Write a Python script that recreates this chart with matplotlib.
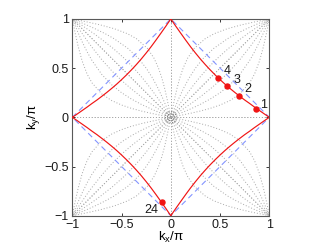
import numpy as np
import matplotlib
matplotlib.use("Agg")
import matplotlib.pyplot as plt

plt.rcParams['font.family'] = ['Liberation Sans', 'DejaVu Sans']
plt.rcParams['mathtext.fontset'] = 'custom'
plt.rcParams['mathtext.rm'] = 'Liberation Sans'
plt.rcParams['mathtext.it'] = 'Liberation Sans'

# Fermi surface, first quadrant (kx/pi, ky/pi); other quadrants by mirror symmetry
fs_kx = [0.0, 0.05, 0.1, 0.15, 0.2, 0.25, 0.3, 0.35, 0.4, 0.45, 0.5, 0.55, 0.6, 0.65, 0.7, 0.75, 0.8, 0.85, 0.9, 0.95, 1.0]
fs_ky = [1.0, 0.927, 0.856, 0.786, 0.718, 0.654, 0.593, 0.536, 0.482, 0.431, 0.383, 0.337, 0.294, 0.253, 0.214, 0.176, 0.141, 0.104, 0.069, 0.034, 0.0]

# numbered points on the Fermi surface
pt_labels = ['1', '2', '3', '4', '24']
pt_kx = [0.868, 0.692, 0.574, 0.479, -0.094]
pt_ky = [0.088, 0.219, 0.316, 0.403, -0.865]

# grey guide lines, first octant (kx/pi -> ky/pi); mirrored into all octants
guide_kx = [0.0, 0.05, 0.1, 0.2, 0.3, 0.4, 0.5, 0.6, 0.7, 0.8, 0.85, 0.9, 0.94, 0.97, 0.99, 1.0]
guide_ky_a = [0.0, 0.010, 0.020, 0.041, 0.064, 0.091, 0.125, 0.170, 0.237, 0.350, 0.440, 0.572, 0.718, 0.852, 0.950, 1.0]
guide_ky_b = [0.0, 0.021, 0.042, 0.085, 0.132, 0.186, 0.250, 0.330, 0.435, 0.577, 0.666, 0.768, 0.857, 0.928, 0.976, 1.0]
guide_ky_c = [0.0, 0.033, 0.067, 0.136, 0.209, 0.288, 0.375, 0.473, 0.585, 0.712, 0.780, 0.852, 0.911, 0.955, 0.985, 1.0]
guide_axis_kx = [0.0, 1.0]
guide_axis_ky = [0.0, 0.0]
guide_diag_kx = [0.0, 1.0]
guide_diag_ky = [0.0, 1.0]
ring_radii = [0.015, 0.035, 0.055]

# Brillouin-zone diamond |kx|+|ky| = 1
diamond_kx = [-1, 0, 1, 0, -1]
diamond_ky = [0, 1, 0, -1, 0]

ticks = [-1, -0.5, 0, 0.5, 1]
tick_labels = ['\u22121', '\u22120.5', '0', '0.5', '1']

fig = plt.figure(figsize=(3.29, 2.47), dpi=100)
ax = fig.add_axes([0.2198, 0.1267, 0.5988, 0.7966])

gc = (0.66, 0.66, 0.66)
gls = (0, (1, 2.0))


def sym_plot(x, y):
    x = np.asarray(x, float)
    y = np.asarray(y, float)
    for sx in (1, -1):
        for sy in (1, -1):
            ax.plot(sx * x, sy * y, color=gc, lw=0.7, ls=gls, zorder=1)
            ax.plot(sx * y, sy * x, color=gc, lw=0.7, ls=gls, zorder=1)


for gy in (guide_ky_a, guide_ky_b, guide_ky_c):
    sym_plot(guide_kx, gy)
sym_plot(guide_axis_kx, guide_axis_ky)
sym_plot(guide_diag_kx, guide_diag_ky)

th = np.linspace(0, 2 * np.pi, 60)
for r in ring_radii:
    ax.plot(r * np.cos(th), r * np.sin(th), color=(0.45, 0.45, 0.45), lw=0.7,
            ls=(0, (1, 1.5)), zorder=1)

ax.plot(diamond_kx, diamond_ky, color='#8394ff', lw=0.8, ls=(0, (5, 3.5)), zorder=2)

fx = np.asarray(fs_kx)
fy = np.asarray(fs_ky)
for sx in (1, -1):
    for sy in (1, -1):
        ax.plot(sx * fx, sy * fy, color='#f01414', lw=0.85, zorder=3)

ax.plot(pt_kx, pt_ky, 'o', color='#f01414', ms=3.6, mec='#f01414', zorder=4)
offs = [(7, 4), (9, 7), (10, 6), (9, 7), (-10, -8)]
for lab, x, y, o in zip(pt_labels, pt_kx, pt_ky, offs):
    ax.annotate(lab, (x, y), xytext=o, textcoords='offset pixels',
                ha='center', va='center', fontsize=9, color='0.1')

ax.set_xlim(-1, 1)
ax.set_ylim(-1, 1)
ax.set_xticks(ticks)
ax.set_yticks(ticks)
ax.set_xticklabels(tick_labels, fontsize=9)
ax.set_yticklabels(tick_labels, fontsize=9)
ax.tick_params(direction='in', length=2.5, width=0.6, top=True, right=True,
               colors='0.1')
ax.tick_params(axis='x', pad=2.5)
ax.tick_params(axis='y', pad=2.5)
for s in ax.spines.values():
    s.set_color('0.35')
    s.set_linewidth(0.8)
ax.set_xlabel(r'$\mathregular{k_x / \pi}$', fontsize=9.5, labelpad=-1)
ax.set_ylabel(r'$\mathregular{k_y / \pi}$', fontsize=9.5, labelpad=2)
fig.savefig('out.png', dpi=100)
